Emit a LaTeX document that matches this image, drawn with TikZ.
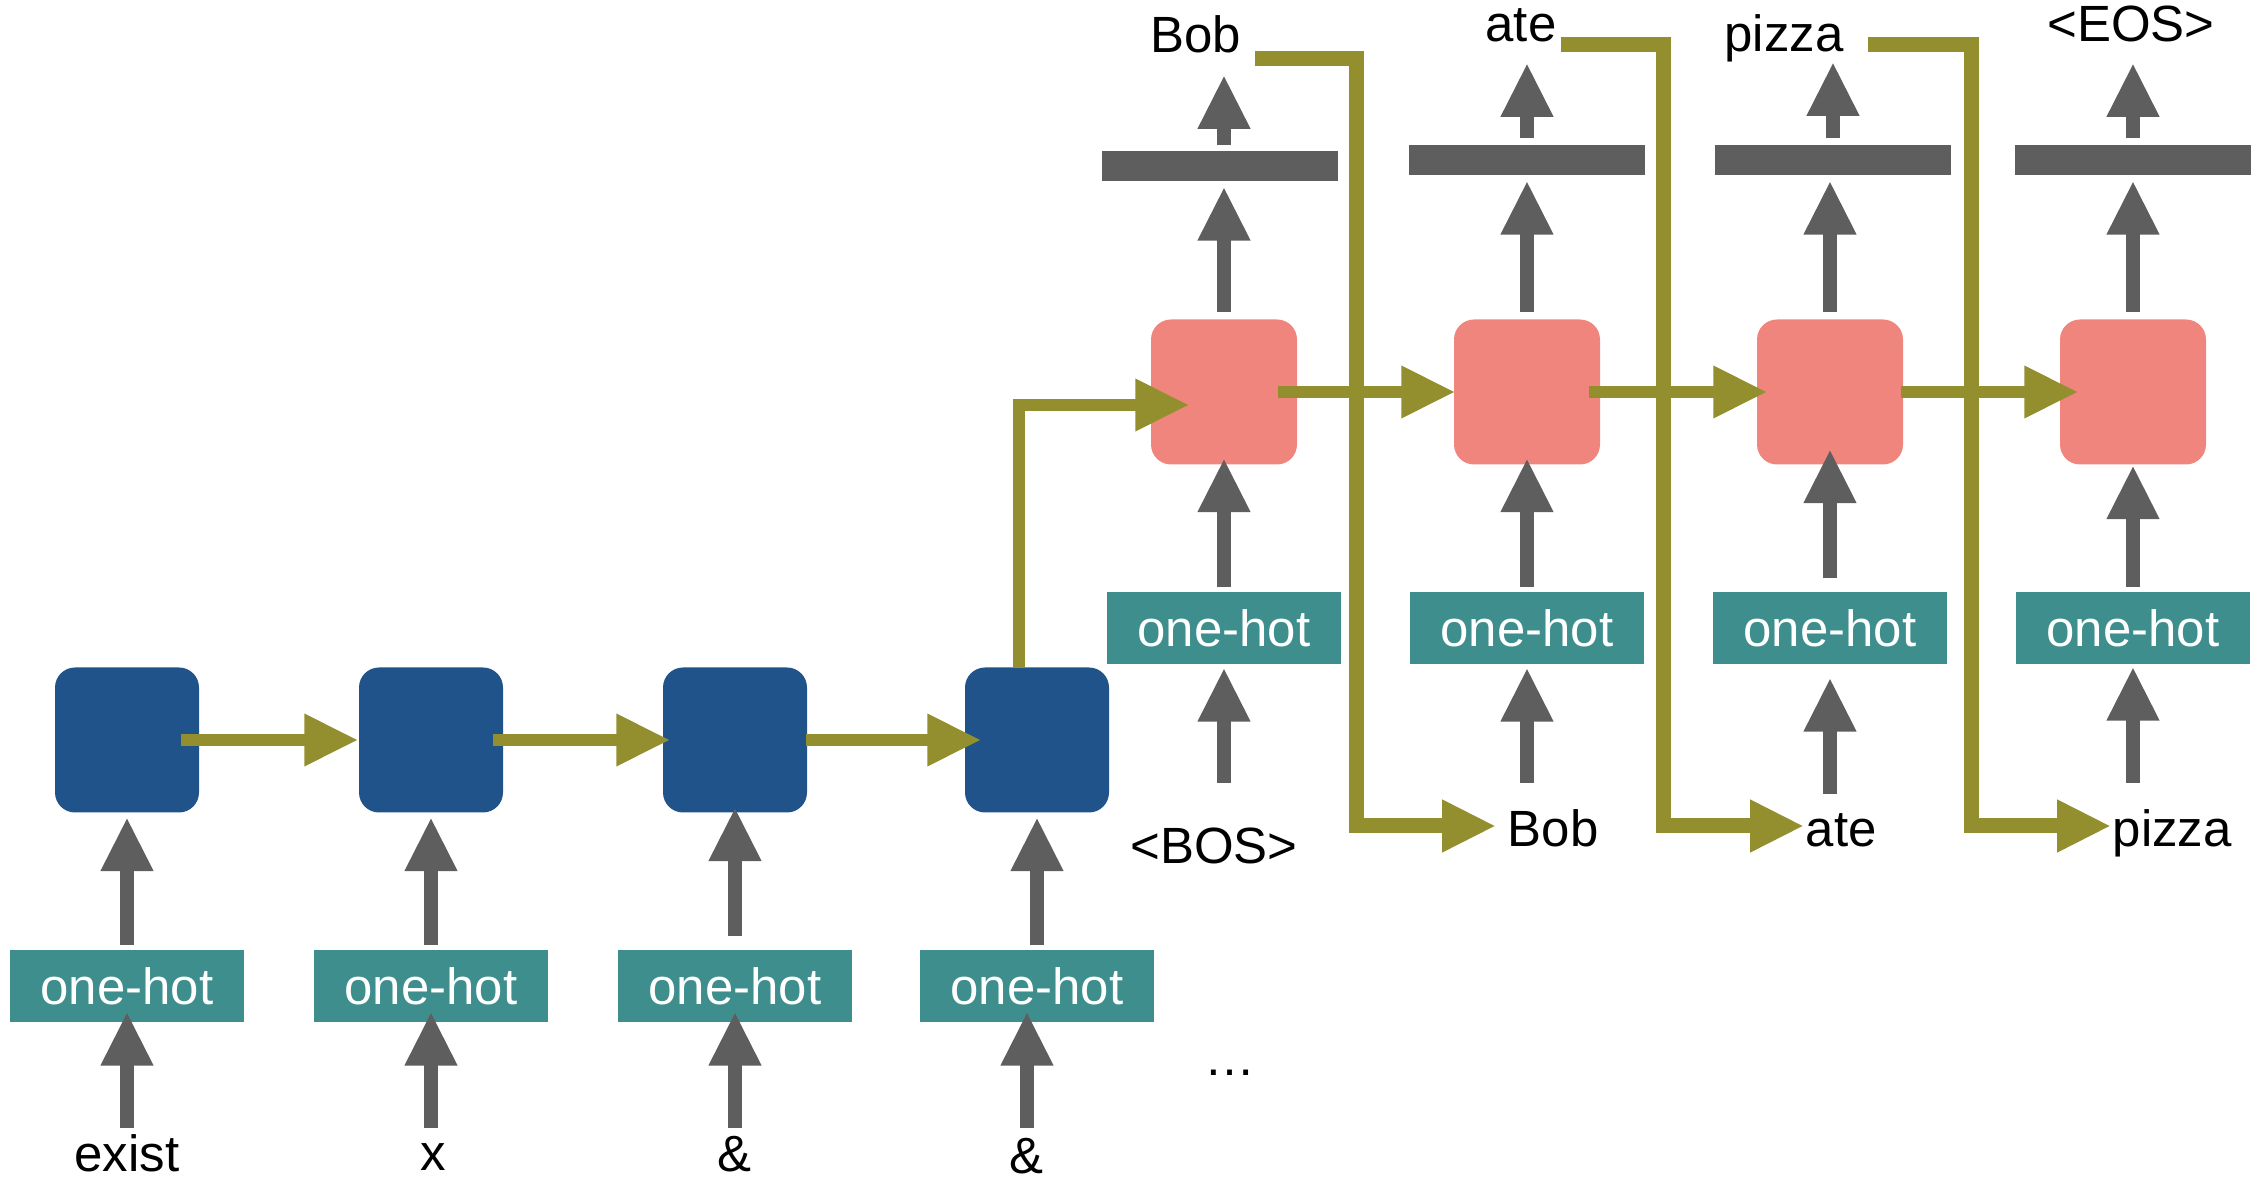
\documentclass[tikz,border=0pt]{standalone}
\usepackage{fontspec}
\setmainfont{Liberation Sans}
\usetikzlibrary{arrows.meta}
\definecolor{encblue}{RGB}{31,83,138}
\definecolor{decpink}{RGB}{240,133,125}
\definecolor{hotteal}{RGB}{63,142,142}
\definecolor{bargray}{RGB}{94,94,94}
\definecolor{lineolive}{RGB}{148,143,46}
\begin{document}
\begin{tikzpicture}[font=\fontsize{14.5}{17}\selectfont,
  enc/.style={fill=encblue, rounded corners=0.2cm, minimum width=1.44cm, minimum height=1.45cm, inner sep=0},
  dec/.style={fill=decpink, rounded corners=0.2cm, minimum width=1.46cm, minimum height=1.45cm, inner sep=0},
  hot/.style={fill=hotteal, text=white, minimum width=2.34cm, minimum height=0.72cm, inner sep=0},
  bar/.style={fill=bargray, minimum width=2.36cm, minimum height=0.30cm, inner sep=0},
  word/.style={inner sep=0, anchor=base},
  up/.style={draw=bargray, line width=0.14cm, -{Triangle[length=0.54cm,width=0.49cm]}},
  olv/.style={draw=lineolive, line width=0.128cm, -{Triangle[length=0.54cm,width=0.49cm]}},
  fb/.style={olv, line width=0.15cm}]
\useasboundingbox (0,0) rectangle (22.60,11.86);

\node (e1) [enc] at (1.27,4.46) {};
\node (e2) [enc] at (4.31,4.46) {};
\node (e3) [enc] at (7.35,4.46) {};
\node (e4) [enc] at (10.37,4.46) {};
\node (h1) [hot] at (1.27,2.00) {one-hot};
\node (h2) [hot] at (4.31,2.00) {one-hot};
\node (h3) [hot] at (7.35,2.00) {one-hot};
\node (h4) [hot] at (10.37,2.00) {one-hot};
\node (x1) [word] at (1.27,0.15) {exist};
\node (x2) [word] at (4.33,0.16) {x};
\node (x3) [word] at (7.34,0.15) {\&};
\node (x4) [word] at (10.26,0.13) {\&};
\node (dots) [word] at (12.30,1.11) {…};

\node (d1) [dec] at (12.24,7.94) {};
\node (d2) [dec] at (15.27,7.94) {};
\node (d3) [dec] at (18.30,7.94) {};
\node (d4) [dec] at (21.33,7.94) {};
\node (g1) [hot] at (12.24,5.58) {one-hot};
\node (g2) [hot] at (15.27,5.58) {one-hot};
\node (g3) [hot] at (18.30,5.58) {one-hot};
\node (g4) [hot] at (21.33,5.58) {one-hot};
\node (o1) [bar] at (12.20,10.20) {};
\node (o2) [bar] at (15.27,10.26) {};
\node (o3) [bar] at (18.33,10.26) {};
\node (o4) [bar] at (21.33,10.26) {};
\node (w1) [word] at (11.955,11.33) {Bob};
\node (w2) [word] at (15.21,11.44) {ate};
\node (w3) [word] at (17.84,11.34) {pizza};
\node (w4) [word] at (21.31,11.44) {<EOS>};
\node (bos) [word] at (12.14,3.23) {<BOS>};
\node (n1) [word, anchor=base west] at (15.07,3.39) {Bob};
\node (n2) [word, anchor=base west] at (18.05,3.39) {ate};
\node (n3) [word, anchor=base west] at (21.12,3.39) {pizza};

% encoder
\draw [up] ([yshift=-1.05cm]h1.south) -- ([yshift=0.11cm]h1.south);
\draw [up] ([yshift=-1.05cm]h2.south) -- ([yshift=0.11cm]h2.south);
\draw [up] ([yshift=-1.05cm]h3.south) -- ([yshift=0.11cm]h3.south);
\draw [up] ([shift={(-0.10,-1.05)}]h4.south) -- ([shift={(-0.10,0.11)}]h4.south);
\draw [up, shorten <=0.04cm, shorten >=0.04cm] (h1.north) -- (e1.south);
\draw [up, shorten <=0.04cm, shorten >=0.04cm] (h2.north) -- (e2.south);
\draw [up, shorten <=0.13cm, shorten >=-0.06cm] (h3.north) -- (e3.south);
\draw [up, shorten <=0.04cm, shorten >=0.04cm] (h4.north) -- (e4.south);
\draw [olv] ([xshift=-0.19cm]e1.east) -- (e2.west);
\draw [olv] ([xshift=-0.11cm]e2.east) -- ([xshift=0.08cm]e3.west);
\draw [olv] ([xshift=-0.02cm]e3.east) -- ([xshift=0.17cm]e4.west);
\draw [olv] ([xshift=-0.18cm]e4.north) |- ([shift={(0.39,-0.13)}]d1.west);

% decoder
\draw [up, shorten >=0.03cm] ([yshift=-1.18cm]g1.south) -- (g1.south);
\draw [up, shorten >=0.03cm] ([yshift=-1.18cm]g2.south) -- (g2.south);
\draw [up, shorten >=0.13cm] ([yshift=-1.29cm]g3.south) -- (g3.south);
\draw [up, shorten >=0.02cm] ([yshift=-1.18cm]g4.south) -- (g4.south);
\draw [up, shorten <=0.04cm, shorten >=-0.07cm] (g1.north) -- (d1.south);
\draw [up, shorten <=0.04cm, shorten >=-0.07cm] (g2.north) -- (d2.south);
\draw [up, shorten <=0.13cm, shorten >=-0.16cm] (g3.north) -- (d3.south);
\draw [up, shorten <=0.04cm] (g4.north) -- (d4.south);
\draw [up, shorten <=0.07cm, shorten >=0.05cm] (d1.north) -- (o1.south -| d1.north);
\draw [up, shorten <=0.07cm, shorten >=0.05cm] (d2.north) -- (o2.south);
\draw [up, shorten <=0.07cm, shorten >=0.05cm] (d3.north) -- (o3.south -| d3.north);
\draw [up, shorten <=0.07cm, shorten >=0.05cm] (d4.north) -- (o4.south);
\draw [up, shorten <=0.05cm, shorten >=0.22cm] (d1.north |- o1.north) -- (d1.north |- w1.base);
\draw [up, shorten <=0.06cm, shorten >=0.21cm] (o2.north) -- (o2.north |- w2.base);
\draw [up, shorten <=0.06cm, shorten >=0.10cm] (o3.north) -- (o3.north |- w3.base);
\draw [up, shorten <=0.06cm, shorten >=0.21cm] (o4.north) -- (o4.north |- w4.base);
\draw [olv] ([xshift=-0.20cm]d1.east) -- ([xshift=0.02cm]d2.west);
\draw [olv] ([xshift=-0.12cm]d2.east) -- ([xshift=0.11cm]d3.west);
\draw [olv] ([xshift=-0.03cm]d3.east) -- ([xshift=0.19cm]d4.west);

% feed back
\draw [fb] ([shift={(0.13,-0.06)}]w1.base east) -| ([shift={(-1.51,0.21)}]n1.base west) -- ([shift={(-0.11,0.21)}]n1.base west);
\draw [fb] ([shift={(0.04,-0.03)}]w2.base east) -| ([shift={(-1.42,0.21)}]n2.base west) -- ([shift={(-0.01,0.21)}]n2.base west);
\draw [fb] ([shift={(0.24,0.07)}]w3.base east) -| ([shift={(-1.41,0.21)}]n3.base west) -- ([shift={(-0.01,0.21)}]n3.base west);
\end{tikzpicture}
\end{document}
